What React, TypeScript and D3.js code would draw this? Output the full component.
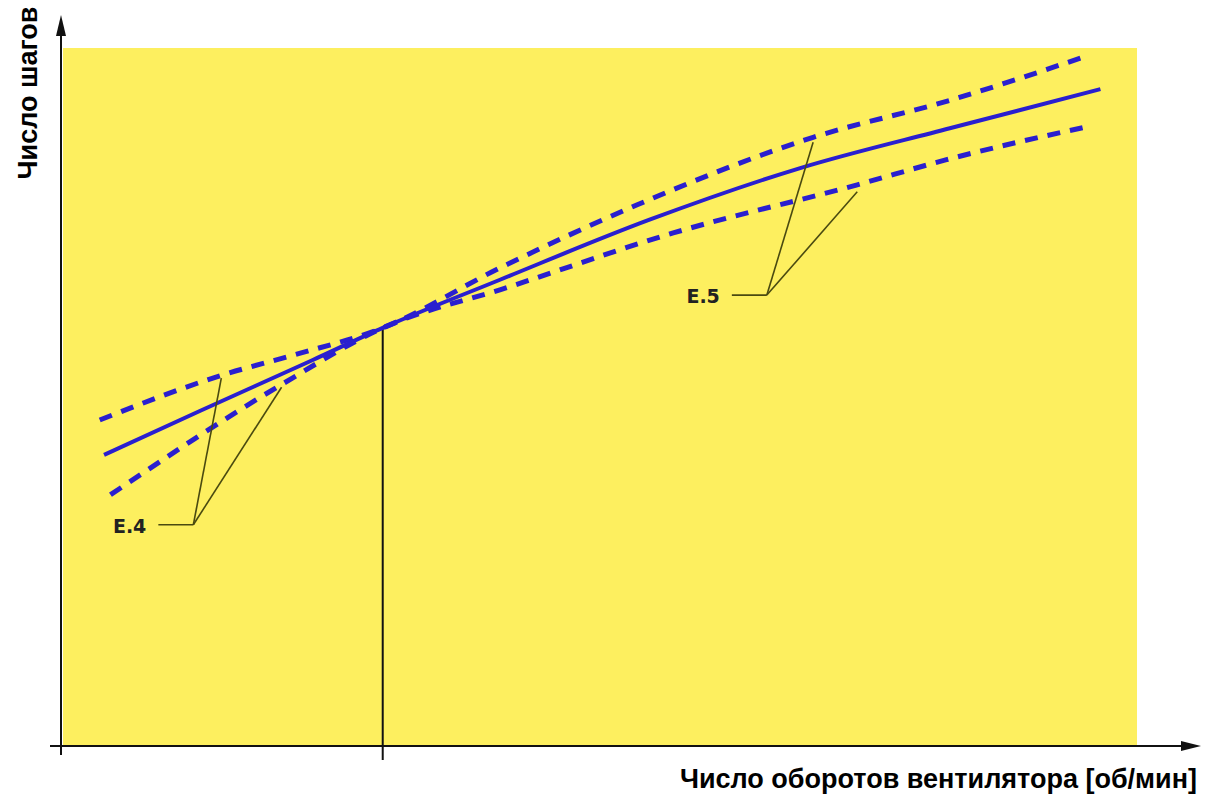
import React from "react";
import * as d3 from "d3";

// Data (abstract units: x 0..100 fan speed, y 0..100 steps)
const solidX = [4.0, 12.9, 23.4, 29.9, 40.8, 54.7, 68.7, 82.6, 96.6];
const solidY = [41.7, 48.0, 55.3, 59.9, 66.8, 75.4, 82.8, 88.5, 94.1];
const upperX = [3.6, 15.1, 21.6, 29.9, 40.8, 53.5, 69.9, 82.6, 95.6];
const upperY = [46.7, 53.2, 56.0, 59.9, 68.5, 77.5, 87.2, 92.5, 99.0];
const lowerX = [4.6, 20.4, 29.9, 41.7, 56.9, 74.0, 82.3, 95.6];
const lowerY = [36.0, 51.7, 59.9, 65.8, 73.5, 80.4, 84.0, 88.8];
const refX = 29.9;
const refY = 59.9;
// Annotation labels and leader targets
const labelNames = ["E.4", "E.5"];
const labelAnchorX = [12.3, 65.6];
const labelAnchorY = [31.7, 64.6];
const labelTargetsX = [[14.9, 20.5], [69.9, 74.0]];
const labelTargetsY = [[52.7, 51.4], [86.5, 79.4]];

const W = 1208;
const H = 797;

export default function App() {
  const x = d3.scaleLinear().domain([0, 100]).range([61, 1137]);
  const y = d3.scaleLinear().domain([0, 100]).range([746, 48]);
  const line = d3
    .line<[number, number]>()
    .x((d) => x(d[0]))
    .y((d) => y(d[1]))
    .curve(d3.curveMonotoneX);
  const zip = (a: number[], b: number[]) => a.map((v, i) => [v, b[i]] as [number, number]);
  const blue = "#2a1fcf";
  const leader = "#4a4a10";

  return (
    <svg width={W} height={H} style={{ position: "absolute", left: 0, top: 0 }}>
      <rect x={0} y={0} width={W} height={H} fill="#ffffff" />
      <rect x={63} y={48} width={1137 - 63} height={745 - 48} fill="#fdef5f" />
      {/* axes */}
      <line x1={61} y1={755} x2={61} y2={30} stroke="#111" strokeWidth={2} />
      <path d="M61,15 L56,36 L66,36 Z" fill="#111" />
      <line x1={50} y1={746} x2={1186} y2={746} stroke="#111" strokeWidth={2} />
      <path d="M1201,746 L1181,741 L1181,751 Z" fill="#111" />
      {/* reference vertical */}
      <line x1={x(refX)} y1={y(refY)} x2={x(refX)} y2={760} stroke="#111" strokeWidth={2} />
      {/* curves */}
      <path d={line(zip(upperX, upperY)) || ""} fill="none" stroke={blue} strokeWidth={5} strokeDasharray="13,10" />
      <path d={line(zip(lowerX, lowerY)) || ""} fill="none" stroke={blue} strokeWidth={5} strokeDasharray="13,10" />
      <path d={line(zip(solidX, solidY)) || ""} fill="none" stroke={blue} strokeWidth={4} />
      {/* labels */}
      {labelNames.map((name, i) => {
        const ax = x(labelAnchorX[i]);
        const ay = y(labelAnchorY[i]);
        return (
          <g key={name}>
            <line x1={ax - 35} y1={ay} x2={ax} y2={ay} stroke={leader} strokeWidth={1.6} />
            {labelTargetsX[i].map((tx, j) => (
              <line key={j} x1={ax} y1={ay} x2={x(tx)} y2={y(labelTargetsY[i][j])} stroke={leader} strokeWidth={1.6} />
            ))}
            <text
              x={ax - 47}
              y={ay + 8}
              textAnchor="end"
              fontFamily="Verdana, 'DejaVu Sans', sans-serif"
              fontWeight="bold"
              fontSize={19}
              fill="#222"
            >
              {name}
            </text>
          </g>
        );
      })}
      {/* axis titles */}
      <text
        x={1197}
        y={788}
        textAnchor="end"
        fontFamily="'Liberation Sans', Arial, sans-serif"
        fontWeight="bold"
        fontSize={27}
        fill="#000"
      >
        Число оборотов вентилятора [об/мин]
      </text>
      <text
        transform="translate(37,93) rotate(-90)"
        textAnchor="middle"
        fontFamily="'Liberation Sans', Arial, sans-serif"
        fontWeight="bold"
        fontSize={27}
        fill="#000"
      >
        Число шагов
      </text>
    </svg>
  );
}
